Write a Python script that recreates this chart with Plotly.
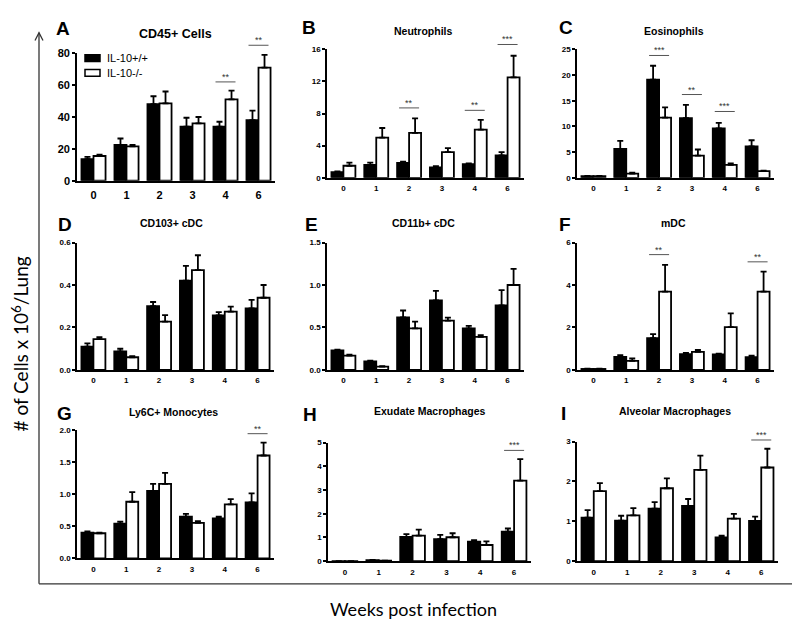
import plotly.graph_objects as go

weeks = ["0", "1", "2", "3", "4", "6"]
series_names = ["IL-10+/+", "IL-10-/-"]
y_title = "# of Cells x 10<sup>6</sup>/Lung"
x_title = "Weeks post infection"

panel_letters = ["A", "B", "C", "D", "E", "F", "G", "H", "I"]
panel_titles = ["CD45+ Cells", "Neutrophils", "Eosinophils", "CD103+ cDC", "CD11b+ cDC",
                "mDC", "Ly6C+ Monocytes", "Exudate Macrophages", "Alveolar Macrophages"]

# IL-10+/+ (black) means and SEM
wt_A = [13.5, 22.5, 48.0, 34.0, 34.0, 38.0]
wt_A_err = [1.5, 4.0, 5.0, 5.5, 3.0, 6.0]
wt_B = [0.7, 1.6, 1.85, 1.3, 1.7, 2.8]
wt_B_err = [0.1, 0.3, 0.15, 0.15, 0.1, 0.4]
wt_C = [0.3, 5.6, 19.1, 11.6, 9.6, 6.1]
wt_C_err = [0.05, 1.6, 2.7, 2.6, 1.1, 1.2]
wt_D = [0.11, 0.088, 0.30, 0.42, 0.257, 0.29]
wt_D_err = [0.015, 0.012, 0.02, 0.07, 0.015, 0.04]
wt_E = [0.23, 0.10, 0.62, 0.82, 0.49, 0.76]
wt_E_err = [0.01, 0.01, 0.08, 0.11, 0.03, 0.18]
wt_F = [0.05, 0.62, 1.5, 0.74, 0.73, 0.6]
wt_F_err = [0.01, 0.08, 0.19, 0.06, 0.04, 0.08]
wt_G = [0.40, 0.54, 1.05, 0.65, 0.62, 0.87]
wt_G_err = [0.02, 0.03, 0.11, 0.04, 0.03, 0.14]
wt_H = [0.005, 0.05, 1.03, 0.93, 0.82, 1.25]
wt_H_err = [0.0, 0.01, 0.11, 0.18, 0.07, 0.13]
wt_I = [1.09, 1.02, 1.32, 1.39, 0.60, 1.01]
wt_I_err = [0.19, 0.12, 0.16, 0.17, 0.04, 0.11]

# IL-10-/- (white) means and SEM
ko_A = [15.5, 21.5, 48.5, 36.0, 51.0, 71.0]
ko_A_err = [0.8, 1.0, 7.5, 4.0, 5.5, 8.0]
ko_B = [1.5, 5.0, 5.6, 3.2, 6.0, 12.5]
ko_B_err = [0.4, 1.2, 1.8, 0.5, 1.2, 2.7]
ko_C = [0.3, 0.8, 11.7, 4.3, 2.5, 1.3]
ko_C_err = [0.05, 0.2, 2.0, 1.2, 0.3, 0.1]
ko_D = [0.145, 0.06, 0.228, 0.47, 0.275, 0.34]
ko_D_err = [0.01, 0.005, 0.03, 0.07, 0.023, 0.06]
ko_E = [0.17, 0.04, 0.49, 0.58, 0.39, 1.0]
ko_E_err = [0.01, 0.005, 0.08, 0.035, 0.02, 0.19]
ko_F = [0.05, 0.43, 3.69, 0.85, 2.02, 3.69]
ko_F_err = [0.01, 0.11, 1.26, 0.09, 0.64, 0.94]
ko_G = [0.39, 0.88, 1.16, 0.55, 0.84, 1.60]
ko_G_err = [0.01, 0.15, 0.17, 0.03, 0.08, 0.20]
ko_H = [0.005, 0.02, 1.08, 1.01, 0.685, 3.40]
ko_H_err = [0.0, 0.0, 0.25, 0.17, 0.155, 0.9]
ko_I = [1.76, 1.15, 1.83, 2.29, 1.07, 2.35]
ko_I_err = [0.2, 0.18, 0.25, 0.36, 0.12, 0.47]

# axis maxima and tick labels
y_max = [80, 16, 25, 0.6, 1.5, 6, 2.0, 5, 3]
tick_vals = [[0, 20, 40, 60, 80], [0, 4, 8, 12, 16], [0, 5, 10, 15, 20, 25],
             [0, 0.2, 0.4, 0.6], [0, 0.5, 1.0, 1.5], [0, 2, 4, 6],
             [0, 0.5, 1.0, 1.5, 2.0], [0, 1, 2, 3, 4, 5], [0, 1, 2, 3]]
tick_text = [["0", "20", "40", "60", "80"], ["0", "4", "8", "12", "16"],
             ["0", "5", "10", "15", "20", "25"], ["0.0", "0.2", "0.4", "0.6"],
             ["0.0", "0.5", "1.0", "1.5"], ["0", "2", "4", "6"],
             ["0.0", "0.5", "1.0", "1.5", "2.0"], ["0", "1", "2", "3", "4", "5"],
             ["0", "1", "2", "3"]]

# significance markers: (panel index, week index, bar height, label)
sig_panel = [0, 0, 1, 1, 1, 2, 2, 2, 5, 5, 6, 7, 8]
sig_week = [4, 5, 2, 4, 5, 2, 3, 4, 2, 5, 5, 5, 5]
sig_level = [62, 85, 8.7, 8.4, 16.6, 23.8, 16.2, 12.9, 5.43, 5.09, 1.94, 4.67, 3.04]
sig_label = ["**", "**", "**", "**", "***", "***", "**", "***", "**", "**", "**", "***", "***"]

wt_all = [wt_A, wt_B, wt_C, wt_D, wt_E, wt_F, wt_G, wt_H, wt_I]
wt_err_all = [wt_A_err, wt_B_err, wt_C_err, wt_D_err, wt_E_err, wt_F_err, wt_G_err, wt_H_err, wt_I_err]
ko_all = [ko_A, ko_B, ko_C, ko_D, ko_E, ko_F, ko_G, ko_H, ko_I]
ko_err_all = [ko_A_err, ko_B_err, ko_C_err, ko_D_err, ko_E_err, ko_F_err, ko_G_err, ko_H_err, ko_I_err]

# ---------------- layout (pixels) ----------------
W, H = 800, 622
boxes = [(69, 267, 40, 170), (319, 516, 36, 167), (569, 766, 36, 167),
         (69, 266, 233, 363), (319, 516, 233, 363), (569, 766, 233, 363),
         (69, 266, 424, 555), (320, 523, 437, 558), (569, 770, 436, 558)]
letter_pos = [(55, 15), (301, 14), (558, 14), (57, 215), (303, 215), (557, 215),
              (56, 407), (302, 408), (555, 407)]
title_pos = [(167, 20), (415, 17), (666, 17), (163, 213), (415, 213), (665, 213),
             (165, 406), (422, 405), (667, 405)]

FONT = "Liberation Sans, Arial, sans-serif"

def px(x):
    return x / W

def py(y):
    return 1 - y / H

fig = go.Figure()
layout = dict(width=W, height=H, margin=dict(l=0, r=0, t=0, b=0),
              paper_bgcolor="white", plot_bgcolor="white", showlegend=False,
              barmode="group", bargap=0.27, bargroupgap=0.0,
              font=dict(family=FONT, color="black"))
shapes = []
annotations = []

for i in range(9):
    n = "" if i == 0 else str(i + 1)
    xa, ya = "x" + n, "y" + n
    for vals, errs, fill, name in ((wt_all[i], wt_err_all[i], "black", series_names[0]),
                                   (ko_all[i], ko_err_all[i], "white", series_names[1])):
        fig.add_trace(go.Bar(
            x=weeks, y=vals, name=name, xaxis=xa, yaxis=ya,
            marker=dict(color=fill, line=dict(color="black", width=1.8)),
            error_y=dict(type="data", array=errs, arrayminus=[0] * len(errs), symmetric=False,
                         color="black", thickness=1.8, width=3),
        ))
    l, r, t, b = boxes[i]
    big = (i == 0)
    tfs = 11 if big else 8
    layout["xaxis" + n] = dict(domain=[px(l), px(r)], anchor=ya, type="category",
                               range=[-0.5, 5.5], showline=True, linecolor="black", linewidth=1.6,
                               ticks="outside", ticklen=3 if big else 2, tickcolor="rgba(0,0,0,0)",
                               showgrid=False, zeroline=False, fixedrange=True,
                               tickfont=dict(size=tfs, family=FONT, weight="bold"))
    layout["yaxis" + n] = dict(domain=[py(b), py(t)], anchor=xa, range=[0, y_max[i]],
                               tickmode="array", tickvals=tick_vals[i], ticktext=tick_text[i],
                               showline=True, linecolor="black", linewidth=1.6,
                               ticks="outside", ticklen=3, tickwidth=1.5, tickcolor="black",
                               showgrid=False, zeroline=False, fixedrange=True,
                               tickfont=dict(size=tfs, family=FONT, weight="bold"))
    # panel letter and title
    annotations.append(dict(text="<b>%s</b>" % panel_letters[i], x=px(letter_pos[i][0]),
                            y=py(letter_pos[i][1]), xref="paper", yref="paper", showarrow=False,
                            xanchor="center", yanchor="middle", font=dict(size=19, family=FONT)))
    annotations.append(dict(text="<b>%s</b>" % panel_titles[i], x=px(title_pos[i][0]),
                            y=py(title_pos[i][1]), xref="paper", yref="paper", showarrow=False,
                            xanchor="center", yanchor="middle",
                            font=dict(size=12.5 if big else 10.5, family=FONT)))

# significance bars (in axis-domain units so they can sit above the axis top)
for p, w, lev, lab in zip(sig_panel, sig_week, sig_level, sig_label):
    n = "" if p == 0 else str(p + 1)
    l, r, t, b = boxes[p]
    wpx = r - l
    cx = (w + 0.5) / 6
    half = 10 / wpx
    yf = lev / y_max[p]
    shapes.append(dict(type="line", xref="x%s domain" % n, yref="y%s domain" % n,
                       x0=cx - half, x1=cx + half, y0=yf, y1=yf,
                       line=dict(color="#555555", width=1)))
    annotations.append(dict(text=lab, xref="x%s domain" % n, yref="y%s domain" % n,
                            x=cx, y=yf, showarrow=False, xanchor="center", yanchor="bottom",
                            yshift=-2, font=dict(size=9, family=FONT, color="#333333")))

# legend in panel A
leg_y = [45, 60]
leg_fill = ["black", "white"]
for k in range(2):
    shapes.append(dict(type="rect", xref="paper", yref="paper",
                       x0=px(77), x1=px(92), y0=py(leg_y[k] + 3.5), y1=py(leg_y[k] - 3.5),
                       fillcolor=leg_fill[k], line=dict(color="black", width=1.5)))
    annotations.append(dict(text=series_names[k], x=px(97), y=py(leg_y[k]), xref="paper",
                            yref="paper", showarrow=False, xanchor="left", yanchor="middle",
                            font=dict(size=11, family=FONT)))

# outer arrow axes
ax_col = "#333333"
shapes.append(dict(type="line", xref="paper", yref="paper",
                   x0=px(31), x1=px(31), y0=py(581), y1=py(19),
                   line=dict(color=ax_col, width=1.3)))
shapes.append(dict(type="path", xref="paper", yref="paper",
                   path="M %f %f L %f %f L %f %f" % (px(27), py(27), px(31), py(19), px(35), py(27)),
                   line=dict(color=ax_col, width=1.3)))
shapes.append(dict(type="line", xref="paper", yref="paper",
                   x0=px(31), x1=px(796), y0=py(581), y1=py(581),
                   line=dict(color=ax_col, width=1.3)))
shapes.append(dict(type="path", xref="paper", yref="paper",
                   path="M %f %f L %f %f L %f %f" % (px(786), py(575), px(796), py(581), px(786), py(587)),
                   line=dict(color=ax_col, width=1.3)))

annotations.append(dict(text=y_title, x=px(12), y=py(337), xref="paper", yref="paper",
                        showarrow=False, textangle=-90, xanchor="center", yanchor="middle",
                        font=dict(size=19, family="Lato, Open Sans, sans-serif")))
annotations.append(dict(text=x_title, x=px(405), y=py(607), xref="paper", yref="paper",
                        showarrow=False, xanchor="center", yanchor="middle",
                        font=dict(size=18, family="Lato, Open Sans, sans-serif")))

layout["shapes"] = shapes
layout["annotations"] = annotations
fig.update_layout(**layout)
fig.write_html("out.html")
